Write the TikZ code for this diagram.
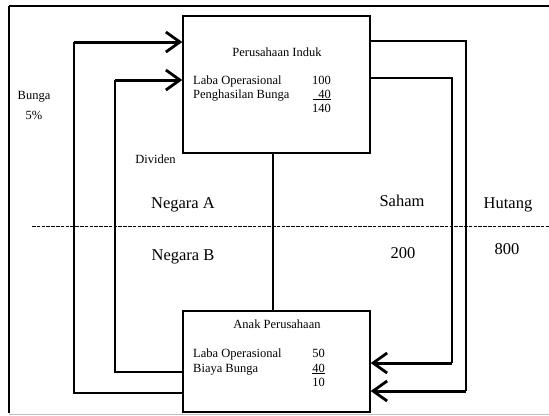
\documentclass[tikz,border=0pt]{standalone}
\usepackage{fontspec}
\setmainfont{Liberation Serif}
\usetikzlibrary{arrows.meta}
\tikzset{
  box/.style={draw, line width=1.4bp, inner sep=0pt},
  conn/.style={line width=1.4bp},
  flow/.style={line width=3bp, -{Straight Barb[length=14bp,width=20bp,line width=2.8bp]}},
  sm/.style={inner sep=0pt, font=\fontsize{12.5bp}{14bp}\selectfont},
  bg/.style={inner sep=0pt, font=\fontsize{16.5bp}{19bp}\selectfont},
}
\begin{document}
\begin{tikzpicture}[x=1bp,y=-1bp]
\useasboundingbox (0,0) rectangle (549,415);
% frame
\draw[line width=2bp] (549,6) -- (9,6);
\draw[line width=1.5bp] (9,6) -- (9,413);
\draw[line width=1bp, black!25] (9,414) -- (549,414);
% dashed border line
\draw[line width=1bp, dash pattern=on 3.5bp off 1.3bp] (32,226) -- (549,226);
% boxes
\node[box, minimum width=187bp, minimum height=137bp] (induk) at (276.5,84.5) {};
\node[box, minimum width=187bp, minimum height=101bp] (anak) at (276.5,361.5) {};
% coordinates
\coordinate (m) at (273,0);
\coordinate (a1) at (74,42);
\coordinate (a2) at (74,393);
\coordinate (b1) at (115,80);
\coordinate (b2) at (115,372);
\coordinate (c1) at (466,41);
\coordinate (c2) at (466,391);
\coordinate (d1) at (452,78);
\coordinate (d2) at (452,363);
% connectors
\draw[conn] (induk.south -| m) -- (anak.north -| m);
\draw[conn] (anak.west |- a2) -- (a2) -- (a1);
\draw[flow] (a1) -- (induk.west |- a1);
\draw[conn] (anak.west |- b2) -- (b2) -- (b1);
\draw[flow] (b1) -- (induk.west |- b1);
\draw[conn] (induk.east |- c1) -- (c1) -- (c2);
\draw[flow] (c2) -- (anak.east |- c2);
\draw[conn] (induk.east |- d1) -- (d1) -- (d2);
\draw[flow] (d2) -- (anak.east |- d2);
% texts top box
\node[sm, anchor=base] (t1) at (277,56) {Perusahaan Induk};
\node[sm, anchor=base west] (t2) at (193,84) {Laba Operasional};
\node[sm, anchor=base east] (t3) at (331,84) {100};
\node[sm, anchor=base west] (t4) at (193,98) {Penghasilan Bunga};
\node[sm, anchor=base east] (t5) at (331,98) {\underline{\hspace{5bp}40}};
\node[sm, anchor=base east] (t6) at (331,112) {140};
% side texts
\node[sm, anchor=base] (bunga) at (34,99) {Bunga};
\node[sm, anchor=base] (pct) at (34,119) {5\%};
\node[sm, anchor=base] (div) at (155.5,163) {Dividen};
\node[bg, anchor=base] (na) at (183,208) {Negara A};
\node[bg, anchor=base] (nb) at (183,260) {Negara B};
\node[bg, anchor=base] (saham) at (402,206) {Saham};
\node[bg, anchor=base] (hutang) at (508,208) {Hutang};
\node[bg, anchor=base] (v200) at (403,258) {200};
\node[bg, anchor=base] (v800) at (507,254) {800};
% texts bottom box
\node[sm, anchor=base] (s1) at (277,328) {Anak Perusahaan};
\node[sm, anchor=base west] (s2) at (193,357) {Laba Operasional};
\node[sm, anchor=base east] (s3) at (325,357) {50};
\node[sm, anchor=base west] (s4) at (193,372) {Biaya Bunga};
\node[sm, anchor=base east] (s5) at (325,372) {\underline{40}};
\node[sm, anchor=base east] (s6) at (325,386) {10};
\end{tikzpicture}
\end{document}
